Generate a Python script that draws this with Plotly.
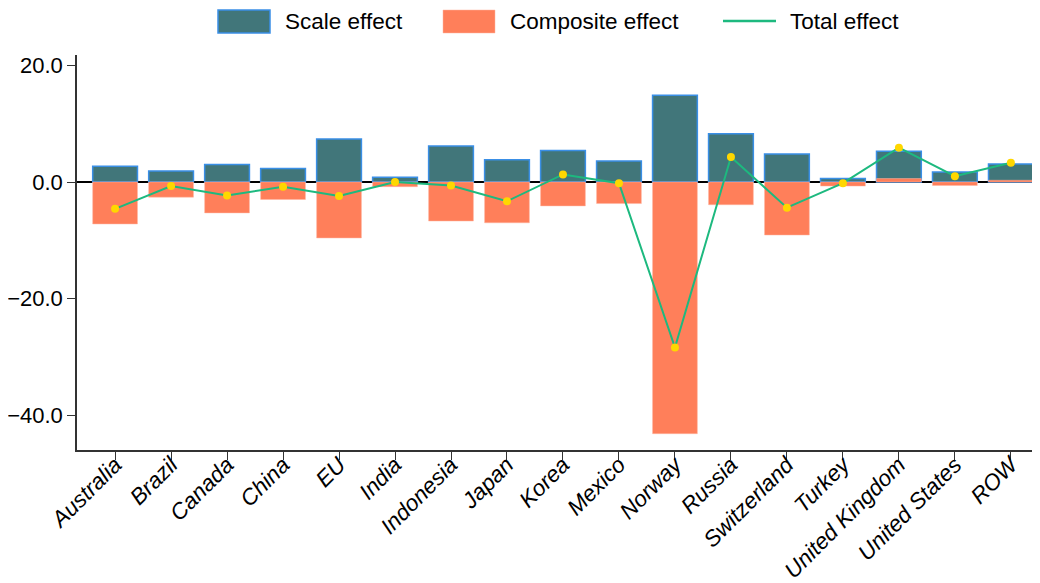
import plotly.graph_objects as go

countries = ["Australia", "Brazil", "Canada", "China", "EU", "India", "Indonesia", "Japan",
             "Korea", "Mexico", "Norway", "Russia", "Switzerland", "Turkey",
             "United Kingdom", "United States", "ROW"]
scale_effect = [2.7, 1.9, 3.0, 2.3, 7.4, 0.8, 6.2, 3.8, 5.4, 3.6, 14.9, 8.3, 4.8, 0.6, 5.3, 1.7, 3.1]
composite_effect = [-7.2, -2.6, -5.3, -3.0, -9.6, -0.8, -6.7, -7.0, -4.1, -3.7, -43.2, -3.9, -9.1, -0.7, 0.6, -0.6, 0.3]
total_effect = [-4.6, -0.7, -2.3, -0.8, -2.4, 0.0, -0.6, -3.3, 1.3, -0.2, -28.4, 4.3, -4.4, -0.2, 5.9, 1.0, 3.3]

SCALE_COLOR = "#41767A"
SCALE_EDGE = "#3A8FE6"
COMP_COLOR = "#FF7F5A"
TOTAL_COLOR = "#1DB97F"
MARKER_COLOR = "#FFD700"

# page body has an 8px margin; figure coordinates are page coordinates minus 8
OFF = 8
ML, MT = 77 - OFF, 55 - OFF
PLOT_R = 1040 - OFF
PLOT_B = 450 - OFF
W, H = 1040, 583
PW = PLOT_R - ML
PH = PLOT_B - MT


def px(xp):
    return (xp - OFF - ML) / PW


def py(yp):
    return (PLOT_B - (yp - OFF)) / PH


fig = go.Figure()
fig.add_trace(go.Bar(x=countries, y=scale_effect, name="Scale effect",
                     marker=dict(color=SCALE_COLOR, line=dict(color=SCALE_EDGE, width=1.5)),
                     width=0.8, showlegend=False))
fig.add_trace(go.Bar(x=countries, y=composite_effect, name="Composite effect",
                     marker=dict(color=COMP_COLOR, line=dict(color="#FFB5A0", width=0.5)),
                     width=0.8, showlegend=False))
fig.add_trace(go.Scatter(x=countries, y=total_effect, name="Total effect", mode="lines+markers",
                         line=dict(color=TOTAL_COLOR, width=2),
                         marker=dict(color=MARKER_COLOR, size=8), showlegend=False))

# legend drawn manually to match the large swatches of the reference
shapes = [
    dict(type="rect", xref="paper", yref="paper", x0=px(218), x1=px(270), y0=py(33), y1=py(10),
         fillcolor=SCALE_COLOR, line=dict(color=SCALE_EDGE, width=1.5)),
    dict(type="rect", xref="paper", yref="paper", x0=px(443), x1=px(495), y0=py(33), y1=py(10),
         fillcolor=COMP_COLOR, line=dict(color="#FFB5A0", width=0.5)),
    dict(type="line", xref="paper", yref="paper", x0=px(723), x1=px(776), y0=py(21), y1=py(21),
         line=dict(color=TOTAL_COLOR, width=2.5)),
]
annotations = [
    dict(text=t, xref="paper", yref="paper", x=px(xx), y=py(21.5), xanchor="left",
         yanchor="middle", showarrow=False, font=dict(size=22.5))
    for t, xx in [("Scale effect", 283), ("Composite effect", 508), ("Total effect", 788)]
]

fig.update_layout(
    width=W, height=H,
    barmode="overlay",
    plot_bgcolor="white", paper_bgcolor="white",
    font=dict(family="Liberation Sans, Arial, sans-serif", size=22, color="black"),
    margin=dict(l=ML, r=W - PLOT_R, t=MT, b=H - PLOT_B, autoexpand=False),
    shapes=shapes, annotations=annotations,
    showlegend=False,
)
fig.update_xaxes(range=[-0.68, 16.52], tickangle=-45, showline=True, linecolor="#333333",
                 linewidth=1.5, ticks="outside", ticklen=8, tickcolor="#333333",
                 showgrid=False, tickfont=dict(size=22.5, style="italic"), automargin=False,
                 ticklabelstandoff=-17)
fig.update_yaxes(range=[-46, 21.8], tickvals=[20, 0, -20, -40], tickformat=".1f",
                 showline=True, linecolor="#333333", linewidth=1.5, ticks="outside",
                 ticklen=8, tickcolor="#333333", showgrid=False,
                 zeroline=True, zerolinecolor="black", zerolinewidth=2,
                 tickfont=dict(size=22), automargin=False)

fig.write_html("out.html")
